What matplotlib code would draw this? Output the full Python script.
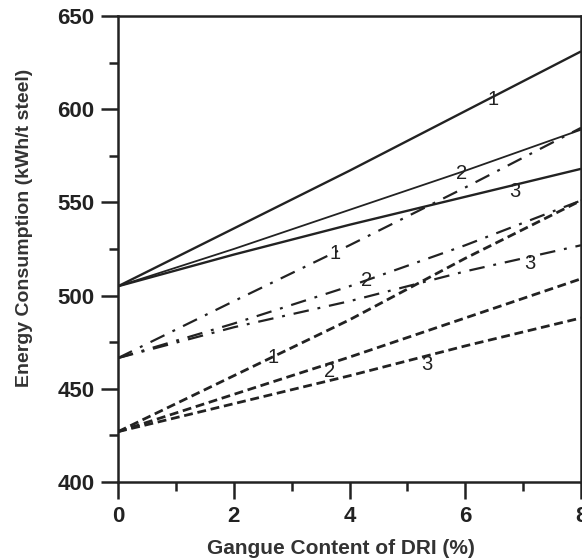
import matplotlib
matplotlib.use("Agg")
import matplotlib.pyplot as plt
from matplotlib.ticker import MultipleLocator

# ---- data ----
x = [0, 2, 4, 6, 8]
solid_1 = [505, 536, 567, 599, 631]
solid_2 = [505, 525, 546, 567, 589]
solid_3 = [505, 522, 538, 553, 568]
dashdot_1 = [466.5, 497, 527, 558, 590]
dashdot_2 = [466.5, 485, 505, 527, 551]
dashdot_3 = [466.5, 483, 497, 513, 527]
dashed_1 = [427, 457, 487, 520, 551]
dashed_2 = [427, 447, 467, 488, 509]
dashed_3 = [427, 442, 457, 473, 488]

curve_labels = ["1", "2", "3", "1", "2", "3", "1", "2", "3"]
label_x = [6.48, 5.94, 6.86, 3.75, 4.3, 7.12, 2.68, 3.66, 5.33]
label_y = [605, 565.6, 555.7, 522.4, 508, 517, 466.6, 459.4, 463]

x_ticks = [0, 2, 4, 6, 8]
y_ticks = [400, 450, 500, 550, 600, 650]
x_label = "Gangue Content of DRI (%)"
y_label = "Energy Consumption (kWh/t steel)"

# ---- plot ----
plt.rcParams['font.family'] = ['Liberation Sans', 'DejaVu Sans']
ink = '#222222'
W, H = 582, 560
L, R, T, B = 118, 581, 16, 482
fig = plt.figure(figsize=(W / 100, H / 100), dpi=100)
ax = fig.add_axes([L / W, 1 - B / H, (R - L) / W, (B - T) / H])

for ys, lw in [(solid_1, 1.7), (solid_2, 1.3), (solid_3, 1.7)]:
    ax.plot(x, ys, color=ink, lw=lw, solid_capstyle='butt')
for ys in [dashdot_1, dashdot_2, dashdot_3]:
    ax.plot(x, ys, color=ink, lw=1.6, linestyle=(0, (7, 4, 1.3, 4)))
for ys in [dashed_1, dashed_2, dashed_3]:
    ax.plot(x, ys, color=ink, lw=2.0, linestyle=(0, (3.2, 1.7)))

for t, lx, ly in zip(curve_labels, label_x, label_y):
    ax.text(lx, ly, t, fontsize=14.5, color=ink, ha='center', va='center')

ax.set_xlim(0, 8)
ax.set_ylim(400, 650)
ax.set_xticks(x_ticks)
ax.set_yticks(y_ticks)
ax.xaxis.set_minor_locator(MultipleLocator(1))
ax.yaxis.set_minor_locator(MultipleLocator(25))
ax.tick_params(which='major', direction='out', length=12, width=1.8, colors=ink,
               labelsize=16, pad=5)
ax.tick_params(which='minor', direction='out', length=6.5, width=1.8, colors=ink)
ax.tick_params(top=False, right=False, which='both')
for lab in ax.get_xticklabels() + ax.get_yticklabels():
    lab.set_fontweight('bold')
    lab.set_color('#222222')
for s in ax.spines.values():
    s.set_linewidth(1.8)
    s.set_color(ink)

ax.set_xlabel(x_label, fontsize=15, fontweight='bold', color='#333333', va='center')
ax.set_ylabel(y_label, fontsize=14, fontweight='bold', color='#333333', va='center')
ax.xaxis.set_label_coords((341 - L) / (R - L), (B - 549) / (B - T))
ax.yaxis.set_label_coords((25 - L) / (R - L), (B - 228) / (B - T))

fig.savefig("out.png", dpi=100)
